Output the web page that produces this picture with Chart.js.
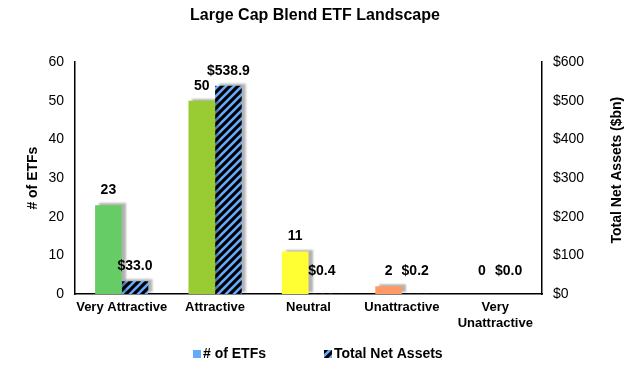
<!DOCTYPE html>
<html><head><meta charset="utf-8">
<script src="https://cdn.jsdelivr.net/npm/chart.js@4"></script>
<style>html,body{margin:0;padding:0;background:#fff}#w{width:630px;height:368px}</style>
</head><body><div id="w"><canvas id="c" width="630" height="368"></canvas></div>
<script>
const categories = ["Very Attractive", "Attractive", "Neutral", "Unattractive", ["Very", "Unattractive"]];
const etfCounts = [23, 50, 11, 2, 0];
const netAssets = [33.0, 538.9, 0.4, 0.2, 0.0];
const countLabels = ["23", "50", "11", "2", "0"];
const assetLabels = ["$33.0", "$538.9", "$0.4", "$0.2", "$0.0"];
const seriesNames = ["# of ETFs", "Total Net Assets"];
const barColors = ["#66CC66", "#99CC33", "#FFFF33", "#FF9966", "#999999"];

const FONT = "'Liberation Sans', Arial, sans-serif";
Chart.defaults.font.family = FONT;
Chart.defaults.color = "#000";

function hatch() {
  const p = document.createElement('canvas');
  p.width = 8; p.height = 8;
  const g = p.getContext('2d');
  g.fillStyle = '#000'; g.fillRect(0, 0, 8, 8);
  g.strokeStyle = '#66AAFF'; g.lineWidth = 2.6;
  g.beginPath();
  g.moveTo(-2, 10); g.lineTo(10, -2);
  g.moveTo(-6, 6); g.lineTo(6, -6);
  g.moveTo(2, 14); g.lineTo(14, 2);
  g.stroke();
  return g.createPattern(p, 'repeat');
}
const pat = hatch();

const shadowPlugin = {
  id: 'shadow',
  beforeDatasetDraw(chart) {
    const ctx = chart.ctx; ctx.save();
    ctx.shadowColor = 'rgba(0,0,0,0.3)';
    ctx.shadowOffsetX = 4; ctx.shadowOffsetY = -2; ctx.shadowBlur = 2;
  },
  afterDatasetDraw(chart) { chart.ctx.restore(); }
};

const labelPlugin = {
  id: 'vlabels',
  afterDatasetsDraw(chart) {
    const ctx = chart.ctx;
    ctx.save();
    ctx.font = "bold 14px " + FONT;
    ctx.fillStyle = '#000';
    ctx.textAlign = 'center'; ctx.textBaseline = 'middle';
    [countLabels, assetLabels].forEach((labs, di) => {
      chart.getDatasetMeta(di).data.forEach((bar, i) => {
        ctx.fillText(labs[i], bar.x, Math.min(bar.y, chart.chartArea.bottom - 8) - 15);
      });
    });
    // right axis title, reading bottom to top
    ctx.save();
    ctx.translate(617, (chart.chartArea.top + chart.chartArea.bottom) / 2 - 8);
    ctx.rotate(-Math.PI / 2);
    ctx.fillText('Total Net Assets ($bn)', 0, 0);
    ctx.restore();
    // legend
    const y = 354;
    const items = [[193, '#66AAFF', seriesNames[0]], [324, pat, seriesNames[1]]];
    ctx.textAlign = 'left';
    items.forEach(([x, fill, txt]) => {
      ctx.fillStyle = fill; ctx.fillRect(x, y - 4, 8, 8);
      ctx.fillStyle = '#000'; ctx.fillText(txt, x + 10, y);
    });
    ctx.restore();
  }
};

new Chart(document.getElementById('c'), {
  type: 'bar',
  data: {
    labels: categories,
    datasets: [
      { label: seriesNames[0], data: etfCounts, backgroundColor: barColors, yAxisID: 'y',
        categoryPercentage: 0.57, barPercentage: 1.0 },
      { label: seriesNames[1], data: netAssets, backgroundColor: pat, yAxisID: 'y1',
        categoryPercentage: 0.57, barPercentage: 1.0 }
    ]
  },
  options: {
    responsive: false, animation: false, devicePixelRatio: 1,
    layout: { padding: { left: 0, right: 0, top: 0, bottom: 34 } },
    plugins: {
      title: { display: true, text: 'Large Cap Blend ETF Landscape',
        font: { size: 16, weight: 'bold' }, color: '#000', padding: { top: 6, bottom: 37 } },
      legend: { display: false },
      tooltip: { enabled: false }
    },
    scales: {
      x: { grid: { display: false, drawTicks: true, tickLength: 5 },
        border: { color: '#000', width: 1.5 },
        ticks: { font: { size: 13, weight: 'bold' }, maxRotation: 0, autoSkip: false, padding: 1 },
        afterFit(s) { s.height = 40; } },
      y: { position: 'left', min: 0, max: 60,
        grid: { display: false, drawTicks: true, tickLength: 5 },
        border: { color: '#000', width: 1.5 },
        ticks: { stepSize: 10, font: { size: 14 }, padding: 6 },
        title: { display: true, text: '# of ETFs', font: { size: 14, weight: 'bold' }, padding: { top: 25, bottom: 0 } },
        afterFit(s) { s.width = 75; } },
      y1: { position: 'right', min: 0, max: 600,
        grid: { display: false, drawTicks: true, tickLength: 5 },
        border: { color: '#000', width: 1.5 },
        ticks: { stepSize: 100, font: { size: 14 }, padding: 6, callback: v => '$' + v },
        afterFit(s) { s.width = 88; } }
    }
  },
  plugins: [shadowPlugin, labelPlugin]
});
</script></body></html>
